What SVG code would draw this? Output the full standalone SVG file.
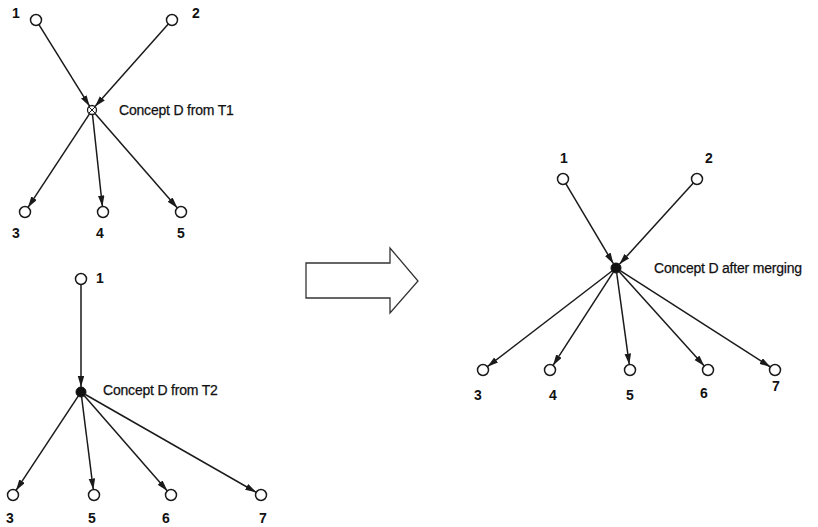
<svg xmlns="http://www.w3.org/2000/svg" width="818" height="527" viewBox="0 0 818 527">
  <style>
    .bg { fill: #ffffff; }
    .edge { stroke: #1a1a1a; stroke-width: 1.5; fill: none; marker-end: url(#arrow); }
    .leaf { fill: #ffffff; stroke: #1a1a1a; stroke-width: 1.5; }
    .hub { fill: #111111; stroke: #111111; stroke-width: 1; }
    .cross { fill: #ffffff; stroke: #1a1a1a; stroke-width: 1.3; }
    .num { font-family: "Liberation Sans", Arial, sans-serif; font-size: 14px; font-weight: bold; fill: #111111; text-anchor: middle; }
    .lbl { font-family: "Liberation Sans", Arial, sans-serif; font-size: 14px; fill: #111111; stroke: #111111; stroke-width: 0.25; letter-spacing: -0.2px; }
    .bigarrow { fill: #ffffff; stroke: #333333; stroke-width: 1.3; }
  </style>
  <defs>
    <marker id="arrow" markerUnits="userSpaceOnUse" markerWidth="12" markerHeight="7" refX="11" refY="3.25" orient="auto">
      <path d="M0,0 L11,3.25 L0,6.5 z" fill="#1a1a1a"/>
    </marker>
  </defs>
  <rect class="bg" x="0" y="0" width="818" height="527"/>

  <!-- connectors -->
  <g id="connectors">
    <!-- T1 -->
    <line class="edge" x1="38.9" y1="24.7" x2="89.6" y2="106.2"/>
    <line class="edge" x1="168.3" y1="24.1" x2="95.0" y2="106.6"/>
    <line class="edge" x1="89.5" y1="113.8" x2="28.0" y2="207.4"/>
    <line class="edge" x1="92.5" y1="114.5" x2="102.4" y2="206.5"/>
    <line class="edge" x1="95.0" y1="113.4" x2="177.4" y2="207.9"/>
    <!-- T2 -->
    <line class="edge" x1="81" y1="284.5" x2="81" y2="387"/>
    <line class="edge" x1="78.2" y1="396.2" x2="16.0" y2="490.4"/>
    <line class="edge" x1="81.6" y1="397.0" x2="93.3" y2="489.5"/>
    <line class="edge" x1="84.3" y1="395.8" x2="167.4" y2="490.9"/>
    <line class="edge" x1="85.3" y1="394.5" x2="256.2" y2="492.3"/>
    <!-- merged -->
    <line class="edge" x1="565.8" y1="183.7" x2="613.4" y2="263.7"/>
    <line class="edge" x1="693.3" y1="183.1" x2="619.4" y2="264.3"/>
    <line class="edge" x1="612.0" y1="271.0" x2="487.4" y2="366.7"/>
    <line class="edge" x1="613.3" y1="272.2" x2="553.0" y2="365.4"/>
    <line class="edge" x1="616.7" y1="273.0" x2="629.3" y2="364.6"/>
    <line class="edge" x1="619.3" y1="271.7" x2="704.3" y2="365.9"/>
    <line class="edge" x1="620.2" y1="270.7" x2="770.4" y2="367.0"/>
  </g>

  <!-- T1 nodes -->
  <g id="t1-n1"><circle class="leaf" cx="36" cy="20" r="5.5"/><text class="num" x="16" y="18">1</text></g>
  <g id="t1-n2"><circle class="leaf" cx="172" cy="20" r="5.5"/><text class="num" x="196" y="18">2</text></g>
  <g id="t1-d">
    <circle class="cross" cx="92" cy="110" r="4.5"/>
    <path d="M89,107 L95,113 M95,107 L89,113" stroke="#1a1a1a" stroke-width="1"/>
    <text class="lbl" x="119" y="115">Concept D from T1</text>
  </g>
  <g id="t1-n3"><circle class="leaf" cx="25" cy="212" r="5.5"/><text class="num" x="16" y="238">3</text></g>
  <g id="t1-n4"><circle class="leaf" cx="103" cy="212" r="5.5"/><text class="num" x="100" y="238">4</text></g>
  <g id="t1-n5"><circle class="leaf" cx="181" cy="212" r="5.5"/><text class="num" x="181" y="238">5</text></g>

  <!-- T2 nodes -->
  <g id="t2-n1"><circle class="leaf" cx="81" cy="279" r="5.5"/><text class="num" x="100" y="283">1</text></g>
  <g id="t2-d">
    <circle class="hub" cx="81" cy="392" r="5"/>
    <text class="lbl" x="103" y="395">Concept D from T2</text>
  </g>
  <g id="t2-n3"><circle class="leaf" cx="13" cy="495" r="5.5"/><text class="num" x="10" y="523">3</text></g>
  <g id="t2-n5"><circle class="leaf" cx="94" cy="495" r="5.5"/><text class="num" x="92" y="523">5</text></g>
  <g id="t2-n6"><circle class="leaf" cx="171" cy="495" r="5.5"/><text class="num" x="166" y="523">6</text></g>
  <g id="t2-n7"><circle class="leaf" cx="261" cy="495" r="5.5"/><text class="num" x="263" y="523">7</text></g>

  <!-- transformation arrow -->
  <g id="merge-arrow">
    <polygon class="bigarrow" points="306,263 390,263 390,248 418,281 390,313 390,298 306,298"/>
  </g>

  <!-- merged nodes -->
  <g id="m-n1"><circle class="leaf" cx="563" cy="179" r="5.5"/><text class="num" x="564" y="163">1</text></g>
  <g id="m-n2"><circle class="leaf" cx="697" cy="179" r="5.5"/><text class="num" x="709" y="163">2</text></g>
  <g id="m-d">
    <circle class="hub" cx="616" cy="268" r="5"/>
    <text class="lbl" x="654" y="273">Concept D after merging</text>
  </g>
  <g id="m-n3"><circle class="leaf" cx="483" cy="370" r="5.5"/><text class="num" x="478" y="400">3</text></g>
  <g id="m-n4"><circle class="leaf" cx="550" cy="370" r="5.5"/><text class="num" x="553" y="400">4</text></g>
  <g id="m-n5"><circle class="leaf" cx="630" cy="370" r="5.5"/><text class="num" x="630" y="400">5</text></g>
  <g id="m-n6"><circle class="leaf" cx="708" cy="370" r="5.5"/><text class="num" x="704" y="398">6</text></g>
  <g id="m-n7"><circle class="leaf" cx="775" cy="370" r="5.5"/><text class="num" x="776" y="391">7</text></g>
</svg>
